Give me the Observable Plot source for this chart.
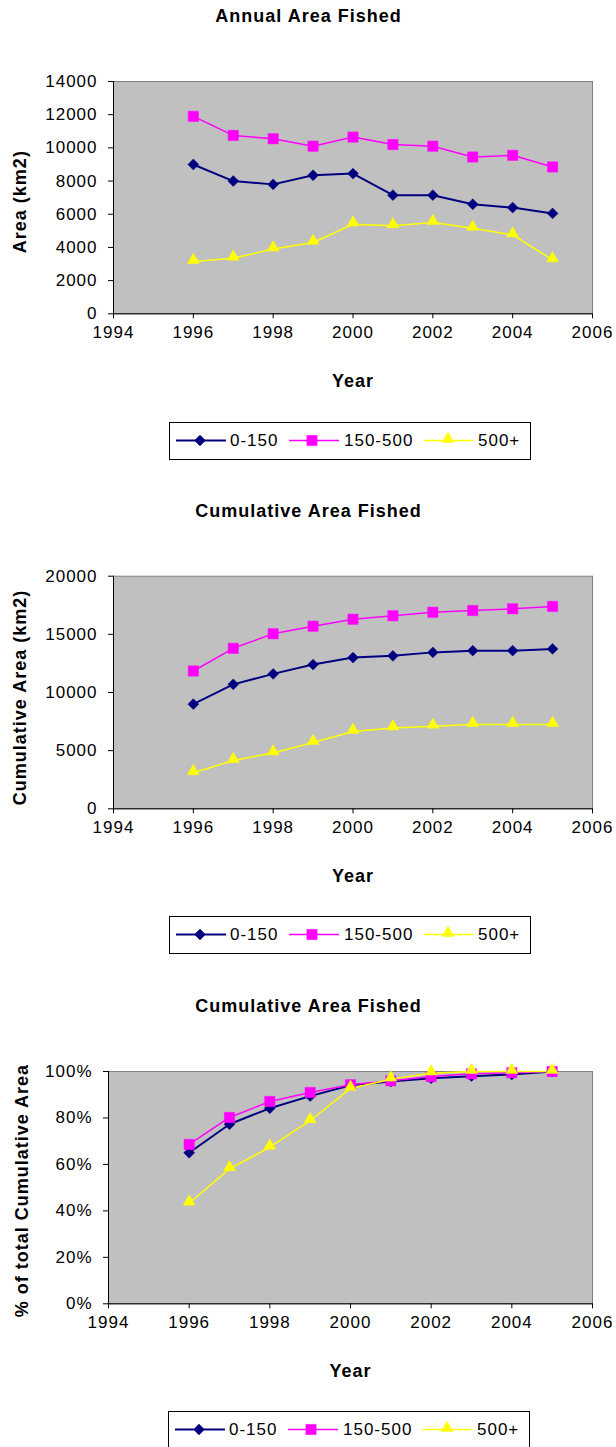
<!DOCTYPE html>
<html>
<head>
<meta charset="utf-8">
<script src="https://cdn.jsdelivr.net/npm/d3@7"></script>
<script src="https://cdn.jsdelivr.net/npm/@observablehq/plot@0.6"></script>
<style>
  html, body { margin: 0; padding: 0; background: #fff; }
  #page { position: relative; width: 616px; height: 1447px; overflow: hidden; font-family: "Liberation Sans", Arial, sans-serif; }
  .chart { position: absolute; left: 0; }
  .chart svg text { letter-spacing: 1px; }
  .legend { position: absolute; }
  .legend text { letter-spacing: 1px; }
</style>
</head>
<body>
<div id="page"></div>
<script>
// Fishing years
const years = [1996, 1997, 1998, 1999, 2000, 2001, 2002, 2003, 2004, 2005];

// Depth bands (m)
const seriesNames = ["0-150", "150-500", "500+"];
const seriesColors = ["#000080", "#ff00ff", "#ffff00"];

// Annual area fished (km2)
const annual0to150 = [9000, 8000, 7800, 8350, 8450, 7150, 7150, 6600, 6400, 6050];
const annual150to500 = [11900, 10750, 10550, 10100, 10650, 10200, 10100, 9450, 9550, 8850];
const annual500plus = [3150, 3350, 3900, 4300, 5400, 5300, 5500, 5150, 4750, 3250];

// Cumulative area fished (km2)
const cumul0to150 = [9000, 10700, 11600, 12400, 13000, 13150, 13450, 13600, 13600, 13750];
const cumul150to500 = [11850, 13800, 15050, 15700, 16300, 16600, 16900, 17050, 17200, 17400];
const cumul500plus = [3100, 4150, 4800, 5700, 6650, 6950, 7100, 7250, 7250, 7250];

// Share of total cumulative area
const share0to150 = [0.65, 0.773, 0.842, 0.894, 0.941, 0.957, 0.971, 0.98, 0.987, 1.0];
const share150to500 = [0.686, 0.802, 0.871, 0.91, 0.943, 0.96, 0.978, 0.99, 0.995, 1.0];
const share500plus = [0.433, 0.581, 0.674, 0.788, 0.927, 0.967, 0.993, 1.0, 1.0, 1.0];

// Axis ticks
const xTicks = [1994, 1996, 1998, 2000, 2002, 2004, 2006];
const yTicksAnnual = [0, 2000, 4000, 6000, 8000, 10000, 12000, 14000];
const yTicksCumul = [0, 5000, 10000, 15000, 20000];
const yTicksShare = [0, 0.2, 0.4, 0.6, 0.8, 1.0];

const FONT = "Liberation Sans, Arial, sans-serif";

// marker style per depth band
const markerStyle = [
  {symbol: "diamond2", r: 4.9, dy: 0, lineWidth: 2},
  {symbol: "square", r: 5.8, dy: 0, lineWidth: 1.5},
  {symbol: "triangle", r: 4.4, dy: -1.5, lineWidth: 1.5}
];

function tidy(seriesValues) {
  const rows = [];
  seriesValues.forEach((vals, s) => {
    vals.forEach((v, i) => rows.push({series: seriesNames[s], year: years[i], value: v}));
  });
  return rows;
}

function drawChart({top, height, marginTop, marginBottom, marginLeft, title, yLabel, yLabelX, yLabelDy,
                    values, yDomain, yTicks, yFormat}) {
  const rows = tidy(values);
  const marginRight = 24;
  const frameCenterX = (marginLeft + (616 - marginRight)) / 2;
  const marks = [
    Plot.frame({fill: "#c0c0c0", stroke: "#808080"}),
    Plot.ruleY([yDomain[0]], {stroke: "black"}),
    Plot.ruleX([1994], {stroke: "black"}),
    Plot.axisX({ticks: xTicks, tickFormat: d => String(d), tickSize: 5, tickPadding: 7,
                label: null, fontSize: 17, color: "black"}),
    Plot.axisY({ticks: yTicks, tickFormat: yFormat, tickSize: 5, tickPadding: 11,
                label: null, fontSize: 17, color: "black"})
  ];
  seriesNames.forEach((name, s) => {
    const data = rows.filter(d => d.series === name);
    marks.push(Plot.line(data, {x: "year", y: "value", stroke: seriesColors[s],
                                strokeWidth: markerStyle[s].lineWidth}));
  });
  seriesNames.forEach((name, s) => {
    const data = rows.filter(d => d.series === name);
    marks.push(Plot.dot(data, {x: "year", y: "value", symbol: markerStyle[s].symbol,
                               r: markerStyle[s].r, fill: seriesColors[s], stroke: seriesColors[s],
                               strokeWidth: 0.5, dy: markerStyle[s].dy}));
  });
  // chart title, centred on the page
  marks.push(Plot.text([title], {frameAnchor: "top", dx: 308 - frameCenterX, dy: 21 - marginTop,
                                 textAnchor: "middle", lineAnchor: "bottom",
                                 fontSize: 18, fontWeight: "bold", fill: "black"}));
  // x-axis title
  marks.push(Plot.text(["Year"], {frameAnchor: "bottom", dy: 72.7, textAnchor: "middle", lineAnchor: "bottom",
                                  fontSize: 18, fontWeight: "bold", fill: "black"}));
  // y-axis title, centred along the frame height
  marks.push(Plot.text([yLabel], {frameAnchor: "left", rotate: -90, dx: yLabelX - marginLeft, dy: yLabelDy,
                                  textAnchor: "middle", lineAnchor: "middle",
                                  fontSize: 18, fontWeight: "bold", fill: "black"}));

  const svg = Plot.plot({
    width: 616,
    height,
    marginTop, marginBottom, marginLeft, marginRight,
    x: {domain: [1994, 2006]},
    y: {domain: yDomain},
    style: {fontFamily: FONT, fontSize: "17px", background: "transparent", overflow: "visible", color: "black"},
    marks
  });
  const wrap = document.createElement("div");
  wrap.className = "chart";
  wrap.style.top = top + "px";
  wrap.appendChild(svg);
  document.getElementById("page").appendChild(wrap);
}

function drawLegend(left, top) {
  const w = 362, h = 38, cy = 18.5;
  const items = [
    {lineX: [7, 57], markX: 31, textX: 61},
    {lineX: [120, 170], markX: 143, textX: 175},
    {lineX: [255, 304], markX: 279, textX: 309}
  ];
  const symbolTypes = {diamond2: d3.symbolDiamond2, square: d3.symbolSquare, triangle: d3.symbolTriangle};
  const svg = d3.create("svg").attr("class", "legend").attr("width", w).attr("height", h)
    .style("left", left + "px").style("top", top + "px");
  svg.append("rect").attr("x", 0.5).attr("y", 0.5).attr("width", w - 1).attr("height", h - 1)
    .attr("fill", "white").attr("stroke", "black");
  items.forEach((it, s) => {
    const color = seriesColors[s];
    svg.append("line").attr("x1", it.lineX[0]).attr("x2", it.lineX[1]).attr("y1", cy).attr("y2", cy)
      .attr("stroke", color).attr("stroke-width", markerStyle[s].lineWidth);
    const m = markerStyle[s];
    svg.append("path")
      .attr("d", d3.symbol(symbolTypes[m.symbol], Math.PI * m.r * m.r)())
      .attr("transform", `translate(${it.markX},${cy + m.dy})`)
      .attr("fill", color).attr("stroke", color).attr("stroke-width", 0.5);
    svg.append("text").attr("x", it.textX).attr("y", cy).attr("dy", "0.35em")
      .attr("font-family", FONT).attr("font-size", 17).attr("fill", "black")
      .text(seriesNames[s]);
  });
  document.getElementById("page").appendChild(svg.node());
}

drawChart({
  top: 0, height: 495, marginTop: 81, marginBottom: 181.7, marginLeft: 113,
  title: "Annual Area Fished", yLabel: "Area (km2)", yLabelX: 20, yLabelDy: 4,
  values: [annual0to150, annual150to500, annual500plus],
  yDomain: [0, 14000], yTicks: yTicksAnnual, yFormat: d => String(d)
});
drawChart({
  top: 495, height: 495, marginTop: 80.7, marginBottom: 181.7, marginLeft: 113,
  title: "Cumulative Area Fished", yLabel: "Cumulative Area (km2)", yLabelX: 20, yLabelDy: 5,
  values: [cumul0to150, cumul150to500, cumul500plus],
  yDomain: [0, 20000], yTicks: yTicksCumul, yFormat: d => String(d)
});
drawChart({
  top: 990, height: 457, marginTop: 81, marginBottom: 143.7, marginLeft: 108,
  title: "Cumulative Area Fished", yLabel: "% of total Cumulative Area", yLabelX: 22, yLabelDy: 3,
  values: [share0to150, share150to500, share500plus],
  yDomain: [0, 1], yTicks: yTicksShare, yFormat: d3.format(".0%")
});

drawLegend(169, 422);
drawLegend(169, 916);
drawLegend(168, 1411);
</script>
</body>
</html>
